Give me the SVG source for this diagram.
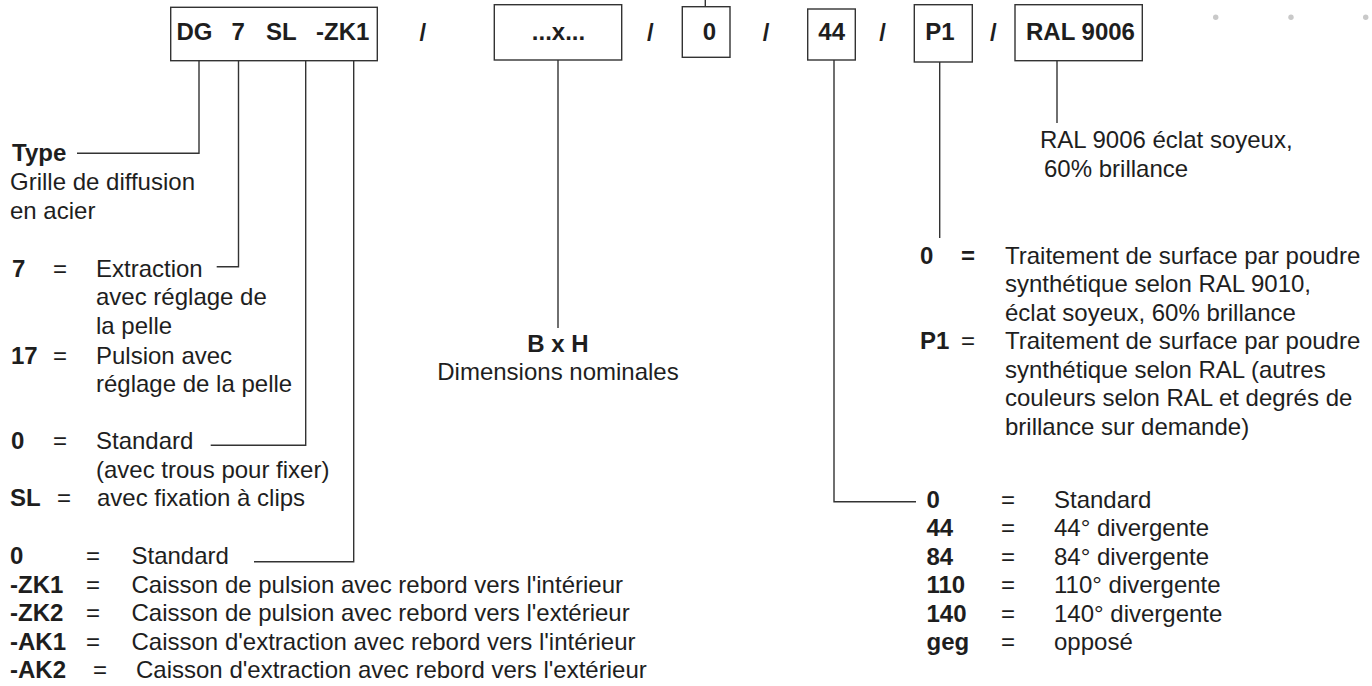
<svg xmlns="http://www.w3.org/2000/svg" width="1372" height="686" viewBox="0 0 1372 686">
<style>
text{font-family:"Liberation Sans",Arial,Helvetica,sans-serif;font-size:24px;fill:#1e1e1e;}
.b{font-weight:bold;}
.m{text-anchor:middle;}
.box{fill:#fff;stroke:#333;stroke-width:1.4;}
.ln{fill:none;stroke:#333;stroke-width:1.4;}
.dot{fill:#c9c9c9;}
</style>
<rect width="1372" height="686" fill="#fff"/>
<g id="connectors">
<path class="ln" d="M199 60.7V153.3H77"/>
<path class="ln" d="M238.5 60.7V266.7H216.7"/>
<path class="ln" d="M305.7 60.7V445.3H210.7"/>
<path class="ln" d="M353.7 60.7V561.7H254"/>
<path class="ln" d="M558 60V328"/>
<path class="ln" d="M705.3 0V6.7"/>
<path class="ln" d="M834 60V501.7H916"/>
<path class="ln" d="M939.7 62V238"/>
<path class="ln" d="M1057 60.7V123"/>
</g>
<g id="node-dg">
<rect class="box" x="170.7" y="7.3" width="206.6" height="53.4"/>
<text class="b" x="176.5" y="40">DG</text>
<text class="b" x="231.5" y="40">7</text>
<text class="b" x="266" y="40">SL</text>
<text class="b" x="316" y="40">-ZK1</text>
</g>
<g id="slashes">
<text class="b" x="419.5" y="40.5">/</text>
<text class="b" x="647" y="40.5">/</text>
<text class="b" x="762.7" y="40.5">/</text>
<text class="b" x="879.3" y="40.5">/</text>
<text class="b" x="990" y="40.5">/</text>
</g>
<g id="node-dim">
<rect class="box" x="494.3" y="4.7" width="127.4" height="55.3"/>
<text class="b m" x="558.5" y="40">...x...</text>
</g>
<g id="node-0">
<rect class="box" x="682.3" y="6.7" width="47.7" height="50.6"/>
<text class="b m" x="709.5" y="39.5">0</text>
</g>
<g id="node-44">
<rect class="box" x="807.7" y="9" width="47.6" height="51"/>
<text class="b m" x="831.7" y="40">44</text>
</g>
<g id="node-p1">
<rect class="box" x="914.3" y="4.7" width="58" height="57.3"/>
<text class="b m" x="940" y="40">P1</text>
</g>
<g id="node-ral">
<rect class="box" x="1015" y="4.7" width="127.3" height="56"/>
<text class="b" x="1026" y="40">RAL 9006</text>
</g>
<g id="dots">
<circle class="dot" cx="1215.7" cy="17.3" r="2.7"/>
<circle class="dot" cx="1291" cy="17.3" r="2.7"/>
<circle class="dot" cx="1365.7" cy="17.3" r="2.7"/>
</g>
<g id="desc-type">
<text class="b" x="12" y="160.7">Type</text>
<text x="10" y="190">Grille de diffusion</text>
<text x="10" y="219">en acier</text>
</g>
<g id="desc-7">
<text class="b" x="12" y="276.7">7</text>
<text x="53" y="276.7">=</text>
<text x="96" y="276.7">Extraction</text>
<text x="96" y="305.2">avec réglage de</text>
<text x="96" y="333.7">la pelle</text>
<text class="b" x="11" y="363.5">17</text>
<text x="53" y="363.5">=</text>
<text x="96" y="363.5">Pulsion avec</text>
<text x="96" y="391.5">réglage de la pelle</text>
</g>
<g id="desc-sl">
<text class="b" x="11" y="449.3">0</text>
<text x="53" y="449.3">=</text>
<text x="96" y="449.3">Standard</text>
<text x="96" y="477.8">(avec trous pour fixer)</text>
<text class="b" x="10" y="506.3">SL</text>
<text x="57" y="506.3">=</text>
<text x="97" y="506.3">avec fixation à clips</text>
</g>
<g id="desc-zk">
<text class="b" x="10" y="564">0</text>
<text x="86" y="564">=</text>
<text x="131.5" y="564">Standard</text>
<text class="b" x="10" y="592.5">-ZK1</text>
<text x="86" y="592.5">=</text>
<text x="131.5" y="592.5">Caisson de pulsion avec rebord vers l'intérieur</text>
<text class="b" x="10" y="621">-ZK2</text>
<text x="86" y="621">=</text>
<text x="131.5" y="621">Caisson de pulsion avec rebord vers l'extérieur</text>
<text class="b" x="10" y="649.5">-AK1</text>
<text x="86" y="649.5">=</text>
<text x="131.5" y="649.5">Caisson d'extraction avec rebord vers l'intérieur</text>
<text class="b" x="10" y="678">-AK2</text>
<text x="93" y="678">=</text>
<text x="136" y="678">Caisson d'extraction avec rebord vers l'extérieur</text>
</g>
<g id="desc-dim">
<text class="b m" x="558" y="352.3">B x H</text>
<text class="m" x="558" y="380">Dimensions nominales</text>
</g>
<g id="desc-p1">
<text class="b" x="920" y="263.5">0</text>
<text class="b" x="961" y="263.5">=</text>
<text x="1005" y="263.5">Traitement de surface par poudre</text>
<text x="1005" y="292">synthétique selon RAL 9010,</text>
<text x="1005" y="320.5">éclat soyeux, 60% brillance</text>
<text class="b" x="920" y="349">P1</text>
<text x="961" y="349">=</text>
<text x="1005" y="349">Traitement de surface par poudre</text>
<text x="1005" y="377.5">synthétique selon RAL (autres</text>
<text x="1005" y="406">couleurs selon RAL et degrés de</text>
<text x="1005" y="434.5">brillance sur demande)</text>
</g>
<g id="desc-44">
<text class="b" x="926.5" y="507.7">0</text>
<text x="1001" y="507.7">=</text>
<text x="1054" y="507.7">Standard</text>
<text class="b" x="926.5" y="536.2">44</text>
<text x="1001" y="536.2">=</text>
<text x="1054" y="536.2">44° divergente</text>
<text class="b" x="926.5" y="564.7">84</text>
<text x="1001" y="564.7">=</text>
<text x="1054" y="564.7">84° divergente</text>
<text class="b" x="926.5" y="593.2">110</text>
<text x="1001" y="593.2">=</text>
<text x="1054" y="593.2">110° divergente</text>
<text class="b" x="926.5" y="621.7">140</text>
<text x="1001" y="621.7">=</text>
<text x="1054" y="621.7">140° divergente</text>
<text class="b" x="926.5" y="650.2">geg</text>
<text x="1001" y="650.2">=</text>
<text x="1054" y="650.2">opposé</text>
</g>
<g id="desc-ral">
<text x="1040" y="148">RAL 9006 éclat soyeux,</text>
<text x="1044" y="176.5">60% brillance</text>
</g>
</svg>
